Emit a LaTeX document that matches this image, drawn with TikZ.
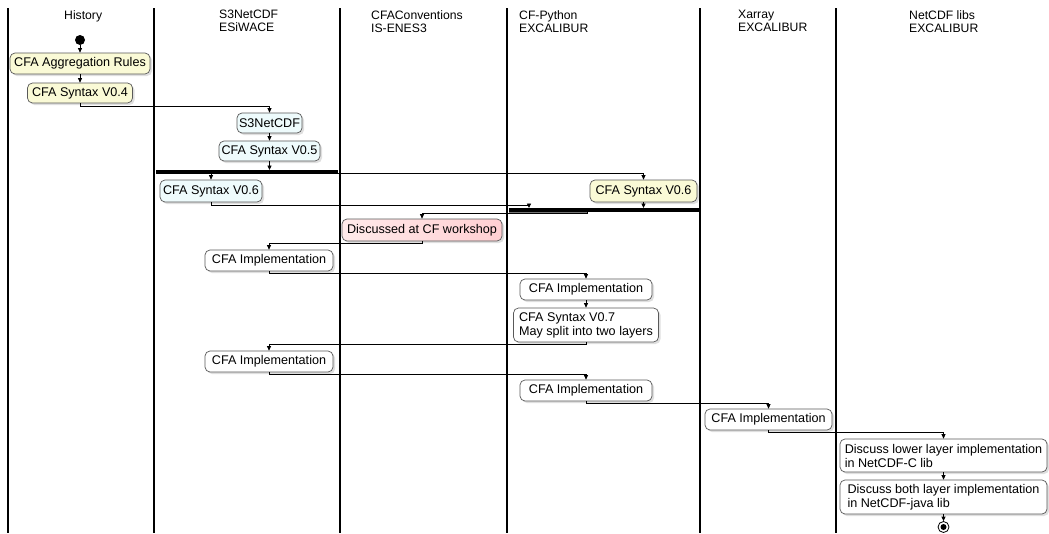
\documentclass[tikz,border=0pt]{standalone}
\usepackage{fontspec}
\setmainfont{Liberation Sans}
\usetikzlibrary{arrows.meta,shadows}
\definecolor{plbeige}{HTML}{FAFAD6}
\definecolor{plazure}{HTML}{EEFBFC}
\definecolor{pinkA}{HTML}{FFEAEA}
\definecolor{pinkB}{HTML}{FFCFD2}
\begin{document}
\begin{tikzpicture}[x=1pt,y=-1pt,
  lane/.style={line width=1.2pt, black},
  hdr/.style={anchor=north west, inner sep=0pt, align=left, font=\fontsize{12.2}{13}\selectfont},
  act/.style={draw=black!65, line width=0.7pt, rounded corners=5pt, inner sep=0pt, align=left,
     font=\fontsize{12.6}{14}\selectfont, minimum height=21pt,
     drop shadow={shadow xshift=2pt,shadow yshift=-2pt,opacity=0.25}},
  beige/.style={act, fill=plbeige},
  azure/.style={act, fill=plazure},
  plain/.style={act, fill=white},
  pinkbox/.style={act, left color=pinkA, right color=pinkB},
  bar/.style={fill=black, inner sep=0pt, minimum height=3.5pt},
  arr/.style={line width=0.8pt, -{Triangle[length=4.5pt,width=4pt]}},
  flow/.style={line width=0.8pt},
]
\fill[white] (0,0) rectangle (1049,533);
\useasboundingbox (0,0) rectangle (1049,533);

% swimlanes
\foreach \xx in {8,154,340,507,700,836} \draw[lane] (\xx,8) -- (\xx,533);

% headers
\node[hdr] (h1) at (64,10) {History};
\node[hdr] (h2) at (219,10) {S3NetCDF\\ESiWACE};
\node[hdr] (h3) at (371,10) {CFAConventions\\IS-ENES3};
\node[hdr] (h4) at (519,10) {CF-Python\\EXCALIBUR};
\node[hdr] (h5) at (738,10) {Xarray\\EXCALIBUR};
\node[hdr] (h6) at (909,10) {NetCDF libs\\EXCALIBUR};

% activities
\node[circle, fill=black, inner sep=0pt, minimum size=10pt] (start) at (80,40) {};
\node[beige, minimum width=140pt] (agg) at (80,63.5) {CFA Aggregation Rules};
\node[beige, minimum width=105pt, minimum height=20pt] (v04) at (80,93) {CFA Syntax V0.4};
\node[azure, minimum width=65pt, minimum height=20pt] (s3) at (269.5,123) {S3NetCDF};
\node[azure, minimum width=101pt, minimum height=20pt] (v05) at (269.5,151) {CFA Syntax V0.5};
\node[bar, minimum width=182pt] (fork) at (247,172) {};
\node[azure, minimum width=102pt, minimum height=22pt] (v06a) at (211,191) {CFA Syntax V0.6};
\node[beige, minimum width=107pt, minimum height=22pt] (v06b) at (643.5,191) {CFA Syntax V0.6};
\node[bar, minimum width=191pt] (join) at (604.5,210) {};
\node[pinkbox, minimum width=160pt, minimum height=22pt] (disc) at (422,230) {Discussed at CF workshop};
\node[plain, minimum width=128pt] (impl1) at (269,260.5) {CFA Implementation};
\node[plain, minimum width=132pt] (impl2) at (586,289.5) {CFA Implementation};
\node[plain, minimum width=145pt, minimum height=34pt] (v07) at (586,325) {CFA Syntax V0.7\\May split into two layers};
\node[plain, minimum width=128pt] (impl3) at (269,361.5) {CFA Implementation};
\node[plain, minimum width=132pt] (impl4) at (586,390.5) {CFA Implementation};
\node[plain, minimum width=127pt] (impl5) at (768.5,419.5) {CFA Implementation};
\node[plain, minimum width=207pt, minimum height=33pt] (nc) at (943.5,455.5) {Discuss lower layer implementation\\in NetCDF-C lib};
\node[plain, minimum width=207pt, minimum height=34pt] (nj) at (943.5,497) {Discuss both layer implementation\\in NetCDF-java lib};
\node[circle, draw=black, line width=0.8pt, fill=white, inner sep=0pt, minimum size=11pt,
  path picture={\fill[black] (path picture bounding box.center) circle (3pt);}] (end) at (943.5,527) {};

\coordinate (jl) at (529,0);
\coordinate (jo) at (587,0);

% connectors
\draw[arr] (start) -- (agg.north);
\draw[arr] (agg.south) -- (v04.north);
\draw[arr] (v04.south) -- ++(0,3) -| (s3.north);
\draw[arr] (s3.south) -- (v05.north);
\draw[arr] (v05.south) -- (v05.south |- fork.north);
\draw[arr] (fork.south -| v06a.north) -- (v06a.north);
\draw[arr] ([xshift=-13pt,yshift=-1.8pt]fork.east) -| (v06b.north);
\draw[arr] (v06a.south) -- ++(0,3.5) -| (join.north -| jl);
\draw[arr] (v06b.south) -- (v06b.south |- join.north);
\draw[black!55, line width=1.6pt] ([yshift=-1.2pt]join.south west) -- ([yshift=-1.2pt]join.south -| jo);
\draw[arr] (join.south -| jo) -- ++(0,1.5) -| (disc.north);
\draw[arr] (disc.south) -- ++(0,2.5) -| (impl1.north);
\draw[arr] (impl1.south) -- ++(0,2) -| (impl2.north);
\draw[arr] (impl2.south) -- (v07.north);
\draw[arr] (v07.south) -- ++(0,2.5) -| (impl3.north);
\draw[arr] (impl3.south) -- ++(0,2.5) -| (impl4.north);
\draw[arr] (impl4.south) -- ++(0,2.5) -| (impl5.north);
\draw[arr] (impl5.south) -- ++(0,2.5) -| (nc.north);
\draw[arr] (nc.south) -- (nj.north);
\draw[arr] (nj.south) -- (end.north);
\end{tikzpicture}
\end{document}
